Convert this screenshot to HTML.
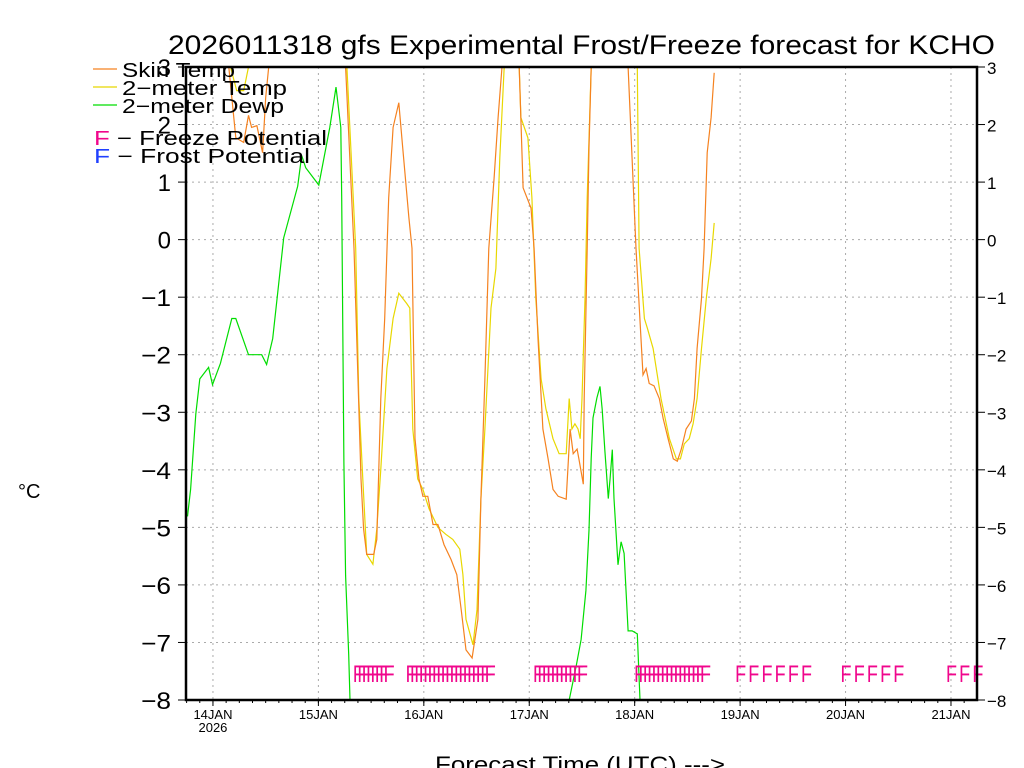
<!DOCTYPE html>
<html><head><meta charset="utf-8"><style>
html,body{margin:0;padding:0;background:#fff;width:1024px;height:768px;overflow:hidden}
svg{display:block;font-family:"Liberation Sans",sans-serif}
</style></head><body>
<svg id="chart" width="1024" height="768" viewBox="0 0 1024 768" xmlns="http://www.w3.org/2000/svg">
<text x="168" y="54" font-size="27" textLength="827" lengthAdjust="spacingAndGlyphs" fill="#000">2026011318 gfs Experimental Frost/Freeze forecast for KCHO</text>
<g id="grid"></g>
<g id="series"></g>
<g id="axes"></g>
<g id="legend">
<line x1="93" y1="69" x2="117" y2="69" stroke="#f58220" stroke-width="1.2"/>
<text x="122" y="77" font-size="20" textLength="113" lengthAdjust="spacingAndGlyphs" fill="#000">Skin Temp</text>
<line x1="93" y1="87" x2="117" y2="87" stroke="#e8d800" stroke-width="1.2"/>
<text x="122" y="95" font-size="20" textLength="165" lengthAdjust="spacingAndGlyphs" fill="#000">2−meter Temp</text>
<line x1="93" y1="105" x2="117" y2="105" stroke="#00dd00" stroke-width="1.2"/>
<text x="122" y="113" font-size="20" textLength="162" lengthAdjust="spacingAndGlyphs" fill="#000">2−meter Dewp</text>
<text x="94" y="145" font-size="20" textLength="233" lengthAdjust="spacingAndGlyphs" fill="#000"><tspan fill="#f0068c">F</tspan> − Freeze Potential</text>
<text x="94" y="163" font-size="20" textLength="216" lengthAdjust="spacingAndGlyphs" fill="#000"><tspan fill="#2040ff">F</tspan> − Frost Potential</text>
</g>
<text x="18" y="498" font-size="20" fill="#000">°C</text>
<text x="435" y="772" font-size="22" textLength="290" lengthAdjust="spacingAndGlyphs" fill="#000">Forecast Time (UTC) ---&gt;</text>
</svg>
<script>
const skinHours=[0,9.6,11.2,13.0,14.1,14.8,16.0,17.3,18.0,18.7,20.3,35.1,36.2,38.1,39.7,40.3,41.0,42.6,43.3,44.2,45.1,46.0,47.0,48.3,49.2,50.6,51.3,52.0,52.9,53.8,54.9,56.1,57.2,58.6,60.2,61.5,62.5,63.6,65.0,66.3,67.0,67.9,68.8,70.0,70.9,71.8,73.8,74.8,75.7,76.6,78.4,79.1,80.0,81.1,82.3,83.4,84.6,86.4,87.3,88.0,88.9,89.3,90.3,90.5,91.2,91.6,92.1,94.4,99.4,100.5,102.3,103.9,104.6,105.3,106.4,107.6,108.5,109.6,110.8,111.7,112.6,113.7,114.9,115.6,116.2,117.2,117.8,118.5,119.4,120.1];
const skinTemp=[3.5,3.0,1.77,1.69,2.16,1.95,1.98,1.51,2.47,3.0,3.5,3.5,3.0,-0.15,-4.16,-5.03,-5.47,-5.47,-5.21,-2.76,-1.37,0.73,1.95,2.38,1.6,0.38,-0.15,-3.46,-4.16,-4.46,-4.46,-4.95,-4.95,-5.3,-5.56,-5.82,-6.43,-7.13,-7.27,-6.6,-4.51,-2.42,-0.15,1.07,2.12,3.0,3.5,3.5,3.0,0.9,0.55,-0.15,-1.72,-3.29,-3.81,-4.34,-4.46,-4.51,-3.29,-3.72,-3.64,-3.81,-4.25,-2.76,-0.15,1.6,3.0,3.5,3.5,3.0,-0.15,-2.35,-2.24,-2.5,-2.54,-2.76,-3.11,-3.46,-3.81,-3.85,-3.64,-3.29,-3.15,-2.76,-1.89,-1.02,-0.15,1.51,2.12,2.9];
const t2Hours=[0,10.0,11.4,13.0,14.1,15.0,35.1,36.5,38.5,39.2,40.1,41.0,42.4,43.3,44.2,45.6,47.0,48.3,50.1,50.8,51.5,52.6,53.8,55.2,57.2,59.0,60.6,62.2,62.9,63.6,65.2,66.1,67.0,67.9,69.3,70.4,71.3,72.3,73.8,74.8,75.7,76.1,77.7,78.6,79.5,80.7,81.8,83.4,84.8,86.4,87.1,87.7,88.4,89.1,89.6,90.0,90.7,91.2,92.1,94.4,101.2,102.6,103.0,104.2,104.9,106.2,108.0,109.9,111.5,112.4,113.3,114.4,115.3,116.2,117.2,118.3,119.4,120.1];
const t2Temp=[3.5,3.0,2.59,2.59,3.0,3.5,3.5,3.0,-0.15,-2.76,-4.16,-5.47,-5.64,-5.03,-3.99,-2.24,-1.37,-0.93,-1.11,-1.19,-3.29,-4.16,-4.34,-4.68,-5.0,-5.12,-5.21,-5.38,-5.82,-6.6,-7.04,-6.43,-4.51,-3.29,-1.19,-0.5,1.42,3.0,3.5,3.5,3.0,2.12,1.77,0.73,-1.02,-2.42,-2.94,-3.46,-3.72,-3.72,-2.76,-3.29,-3.2,-3.29,-3.46,-2.76,-1.02,0.73,3.0,3.5,3.5,3.0,-0.15,-1.37,-1.54,-1.89,-2.76,-3.46,-3.81,-3.81,-3.55,-3.46,-3.2,-2.76,-1.89,-1.02,-0.33,0.29];
const dewHours=[0.2,0.9,2.1,3.0,5.0,5.9,7.7,10.3,11.2,14.1,17.1,18.2,19.6,22.1,25.3,26.2,27.1,30.1,32.6,34.0,35.1,35.3,35.8,36.2,36.9,37.2,40,84,87.1,88.7,89.8,90.9,91.6,92.1,92.5,93.4,94.1,94.6,95.2,96.0,96.4,96.9,97.3,98.2,98.9,99.6,100.5,101.4,102.6,103.2,105];
const dewTemp=[-4.81,-4.34,-3.03,-2.42,-2.22,-2.52,-2.15,-1.37,-1.37,-2.0,-2.0,-2.17,-1.72,0.03,0.93,1.46,1.25,0.95,1.95,2.65,1.95,0.73,-3.88,-5.84,-7.21,-8,-9,-9,-8,-7.4,-6.95,-6.1,-5.05,-3.8,-3.1,-2.75,-2.55,-2.95,-3.65,-4.5,-4.15,-3.65,-4.5,-5.65,-5.25,-5.45,-6.8,-6.8,-6.85,-8,-9];
const freezeHours=[39,40,41,42,43,44,45,46,51,52,53,54,55,56,57,58,59,60,61,62,63,64,65,66,67,68,69,80,81,82,83,84,85,86,87,88,89,90,103,104,105,106,107,108,109,110,111,112,113,114,115,116,117,118,126,129,132,135,138,141,150,153,156,159,162,174,177,180];
const yTicks=[3,2,1,0,-1,-2,-3,-4,-5,-6,-7,-8];
const dayLabels=["14JAN","15JAN","16JAN","17JAN","18JAN","19JAN","20JAN","21JAN"];
const dayHours=[6,30,54,78,102,126,150,174];

const NS="http://www.w3.org/2000/svg";
const L=186,R=977,T=67,B=700,H0=186.6,PXH=4.393;
const xs=h=>H0+h*PXH;
const ys=v=>B-(v+8)*(B-T)/11;
function mk(tag,attrs,parent){const e=document.createElementNS(NS,tag);for(const k in attrs)e.setAttribute(k,attrs[k]);parent.appendChild(e);return e;}
const svg=document.getElementById('chart');
const grid=document.getElementById('grid'),axes=document.getElementById('axes'),series=document.getElementById('series');
const defs=mk('defs',{},svg);
const cp=mk('clipPath',{id:'plotclip'},defs);
mk('rect',{x:L,y:T,width:R-L,height:B-T},cp);

yTicks.forEach(v=>{
  const y=ys(v);
  if(v>-8&&v<3){const g=mk('line',{x1:L,x2:R,y1:y,y2:y,stroke:'#aaa','stroke-dasharray':'2,4'},grid);
  
  }
  mk('line',{x1:L-8,x2:L,y1:y,y2:y,stroke:'#000'},axes);
  mk('line',{x1:R,x2:R+8,y1:y,y2:y,stroke:'#000'},axes);
  const lab=(v<0?'−':'')+Math.abs(v);
  const t1=mk('text',{x:L-15,y:y+9,'font-size':24,'text-anchor':'end',fill:'#000'},axes);
  t1.textContent=lab;
  if(v<0){t1.setAttribute('textLength',30);t1.setAttribute('lengthAdjust','spacingAndGlyphs');}
  
  
  const t2=mk('text',{x:R+10,y:y+7,'font-size':17,fill:'#000'},axes);
  t2.textContent=lab;
  
  
});
dayHours.forEach((h,i)=>{
  const x=xs(h);
  const g=mk('line',{x1:x,x2:x,y1:T,y2:B,stroke:'#aaa','stroke-dasharray':'2,4'},grid);
  
  
  mk('line',{x1:x,x2:x,y1:B,y2:B+6,stroke:'#000'},axes);
  const t=mk('text',{x:x,y:B+19,'font-size':13,'text-anchor':'middle',fill:'#000'},axes);
  t.textContent=dayLabels[i];
  
  
});
const yr=mk('text',{x:xs(dayHours[0]),y:B+32,'font-size':13,'text-anchor':'middle',fill:'#000'},axes);
yr.textContent='2026';


for(let h=0;h<=180;h+=3){const x=xs(h);if(x<=R)mk('line',{x1:x,x2:x,y1:B,y2:B+3,stroke:'#000'},axes);}
const frame=mk('rect',{x:L,y:T,width:R-L,height:B-T,fill:'none',stroke:'#000','stroke-width':2.5},axes);



function drawLine(hours,vals,color,name){
  const pts=hours.map((h,i)=>xs(h).toFixed(1)+','+ys(vals[i]).toFixed(1)).join(' ');
  const p=mk('polyline',{points:pts,fill:'none',stroke:color,'stroke-width':1.2,'clip-path':'url(#plotclip)'},series);
  
  
}
drawLine(dewHours,dewTemp,'#00dd00','dewpoint-line');
drawLine(t2Hours,t2Temp,'#e8d800','2m-temp-line');
drawLine(skinHours,skinTemp,'#f58220','skin-temp-line');

freezeHours.forEach(h=>{
  const t=mk('text',{x:xs(h)-5,y:682,'font-size':24,fill:'#f0068c',textLength:11,lengthAdjust:'spacingAndGlyphs'},series);
  t.textContent='F';
  
  
});
</script>
</body></html>
